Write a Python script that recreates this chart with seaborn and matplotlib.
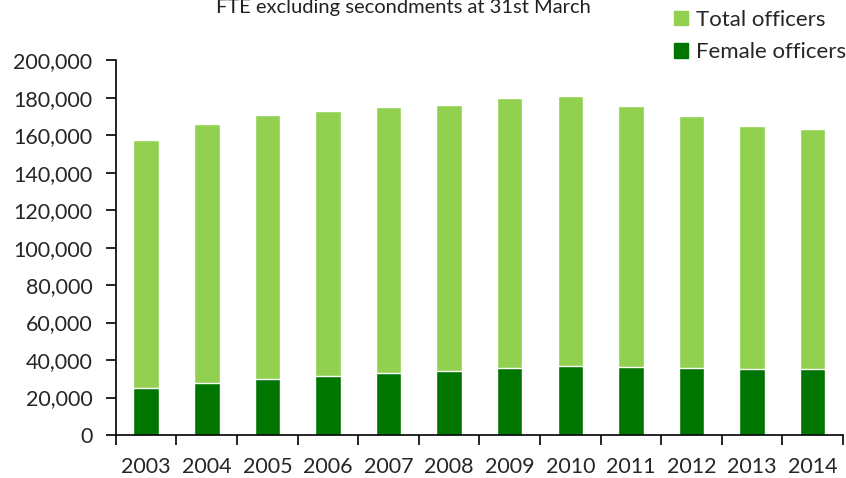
import pandas as pd
import matplotlib.pyplot as plt
import seaborn as sns
from matplotlib.patches import Patch
from matplotlib.ticker import FuncFormatter

# valeurs (ETP, au 31 mars)
years = ['2003', '2004', '2005', '2006', '2007', '2008',
         '2009', '2010', '2011', '2012', '2013', '2014']
total_officers = [157300, 166200, 170900, 172900, 175000, 176100,
                  179800, 180700, 175700, 170000, 164800, 163400]
female_officers = [25000, 27600, 29700, 31300, 32900, 34000,
                   35900, 36600, 36100, 35600, 35000, 35400]

light_green = '#92D050'
dark_green = '#007500'


def Graph_Officers():
    df = pd.DataFrame({'Year': years, 'Total': total_officers, 'Female': female_officers})

    sns.set_style('white')
    plt.rcParams['font.family'] = ['Lato', 'DejaVu Sans']

    fig = plt.figure(figsize=(8.46, 4.78), dpi=100)
    ax = fig.add_axes([0.137, 0.09, 0.8595, 0.784])

    sns.barplot(x='Year', y='Total', data=df, color=light_green, width=0.42,
                saturation=1, ax=ax)
    sns.barplot(x='Year', y='Female', data=df, color=dark_green, width=0.42,
                saturation=1, ax=ax)

    ax.set_ylim(0, 200000)
    ax.set_xlim(-0.5, len(years) - 0.5)
    ax.set_yticks(range(0, 200001, 20000))
    ax.yaxis.set_major_formatter(FuncFormatter(lambda v, p: f'{int(v):,}'))
    ax.set_xlabel('')
    ax.set_ylabel('')

    # ticks de l'axe x entre les catégories
    ax.set_xticks([i - 0.5 for i in range(len(years) + 1)], minor=True)
    ax.tick_params(axis='x', which='major', length=0, labelsize=15.5, pad=16)
    ax.tick_params(axis='x', which='minor', length=7, width=1.2, direction='out', color='black')
    ax.tick_params(axis='y', length=7, width=1.2, direction='out', color='black', labelsize=15.5, pad=10)
    ax.xaxis.set_ticks_position('bottom')
    ax.yaxis.set_ticks_position('left')

    sns.despine(ax=ax)
    for s in ['left', 'bottom']:
        ax.spines[s].set_color('black')
        ax.spines[s].set_linewidth(1.2)

    fig.text(0.477, 0.973, 'FTE excluding secondments at 31st March',
             ha='center', va='baseline', fontsize=14.5, color='#222222')

    handles = [Patch(color=light_green, label='Total officers'),
               Patch(color=dark_green, label='Female officers')]
    fig.legend(handles=handles, loc='upper left', bbox_to_anchor=(674 / 846, 0.98),
               frameon=False, fontsize=16, handlelength=0.62, handleheight=0.62,
               handletextpad=0.36, labelspacing=0.58, borderpad=0, borderaxespad=0)

    fig.savefig('out.png', dpi=100)


def main():
    Graph_Officers()


if __name__ == "__main__":
    main()
